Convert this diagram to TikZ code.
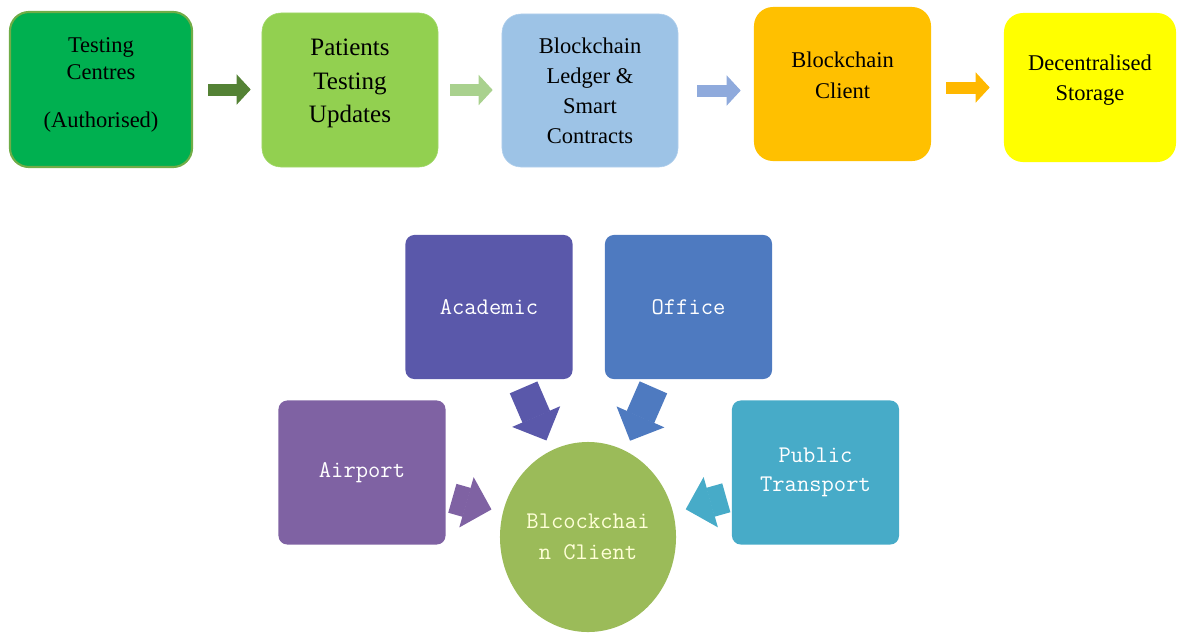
\documentclass[tikz,border=0pt]{standalone}
\usepackage{fontspec}
\setmainfont{Liberation Serif}
\usetikzlibrary{shapes.geometric,arrows.meta}

\definecolor{tcgreen}{HTML}{00B050}
\definecolor{tcedge}{HTML}{70AD47}
\definecolor{tcarrow}{HTML}{548235}
\definecolor{ptgreen}{HTML}{92D050}
\definecolor{ptedge}{HTML}{A2D86A}
\definecolor{ptarrow}{HTML}{A9D18E}
\definecolor{blblue}{HTML}{9DC3E6}
\definecolor{bledge}{HTML}{B2D0EC}
\definecolor{blarrow}{HTML}{8FAADC}
\definecolor{bcorange}{HTML}{FFC000}
\definecolor{bcarrow}{HTML}{FFB800}
\definecolor{dsyellow}{HTML}{FFFF00}
\definecolor{acad}{HTML}{5A58AA}
\definecolor{offc}{HTML}{4E7AC0}
\definecolor{airp}{HTML}{7F62A3}
\definecolor{ptra}{HTML}{47ABC8}
\definecolor{clnt}{HTML}{9BBB59}
\definecolor{cream}{HTML}{FFFFD8}

\tikzset{
  topbox/.style={rounded corners=0.475cm, minimum width=4.4cm, minimum height=3.85cm,
    align=center, inner sep=0pt, font=\fontsize{16}{21.3}\selectfont},
  topflow/.style={line width=0.3cm, -{Triangle[width=0.75cm,length=0.35cm,line width=1pt]}},
  hubbox/.style={rounded corners=0.22cm, minimum width=4.175cm, minimum height=3.6cm,
    align=center, inner sep=0pt, text=white, font=\ttfamily\fontsize{17}{20.6}\selectfont},
  hubflow/.style={line width=0.75cm, -{Triangle[width=1.3cm,length=0.65cm,line width=1pt]}}
}

\begin{document}
\begin{tikzpicture}[x=0.025cm, y=-0.025cm]
\useasboundingbox (0,0) rectangle (1177,633);

\def\ya{89.5}
\def\yb{307}
\def\yc{472.5}

\node[topbox, fill=tcgreen, draw=tcedge, line width=1.5pt, minimum width=4.55cm,
  minimum height=3.875cm, font=\fontsize{16}{19.2}\selectfont, text depth=10pt]
  (tc) at (101, \ya) {Testing\\Centres\\[14.8pt](Authorised)};
\node[topbox, fill=ptgreen, draw=ptedge, font=\fontsize{17.8}{23.8}\selectfont, text depth=13pt]
  (pt) at (350, 90) {Patients\\Testing\\Updates};
\node[topbox, fill=blblue, draw=bledge, minimum height=3.825cm]
  (bl) at (590, 90.5) {Blockchain\\Ledger \&\\Smart\\Contracts};
\node[topbox, fill=bcorange, minimum width=4.425cm, font=\fontsize{16}{22}\selectfont, text depth=13pt]
  (bc) at (842.5, 84) {Blockchain\\Client};
\node[topbox, fill=dsyellow, minimum width=4.3cm, minimum height=3.725cm, text depth=14pt]
  (ds) at (1090, 87.5) {Decentralised\\Storage};

\draw[topflow, draw=tcarrow, shorten <=0.375cm, shorten >=0.275cm] (tc.east) -- (tc.east -| pt.west);
\draw[topflow, draw=ptarrow, shorten <=0.3cm, shorten >=0.225cm] (pt.east) -- (pt.east -| bl.west);
\draw[topflow, draw=blarrow, shorten <=0.475cm, shorten >=0.325cm] (bl.east) -- (bl.east -| bc.west);
\draw[topflow, draw=bcarrow, shorten <=0.375cm, shorten >=0.35cm] (ds.west -| bc.east) -- (ds.west);

\node[hubbox, fill=acad] (ac) at (489, \yb) {Academic};
\node[hubbox, fill=offc] (of) at (688.5, \yb) {Office};
\node[hubbox, fill=airp] (ap) at (362, \yc) {Airport};
\node[hubbox, fill=ptra] (tr) at (815.5, \yc) {Public\\Transport};
\node[ellipse, fill=clnt, minimum width=4.4cm, minimum height=4.75cm, inner sep=0pt,
  align=center, text=cream, font=\ttfamily\fontsize{17}{22}\selectfont]
  (cl) at (588, 537) {Blcockchai\\n Client};

\draw[hubflow, draw=acad, shorten <=0.22cm, shorten >=0.275cm] (ac) -- (cl);
\draw[hubflow, draw=offc, shorten <=0.22cm, shorten >=0.275cm] (of) -- (cl);
\draw[hubflow, draw=airp, shorten <=0.17cm, shorten >=0.29cm] (ap) -- (cl);
\draw[hubflow, draw=ptra, shorten <=0.14cm, shorten >=0.32cm] (tr) -- (cl);
\end{tikzpicture}
\end{document}
